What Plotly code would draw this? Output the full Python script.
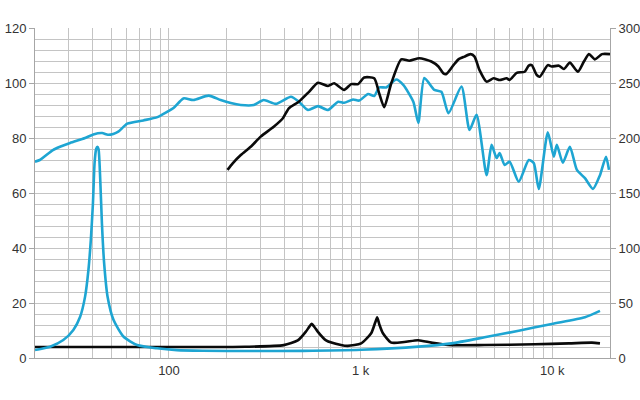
import plotly.graph_objects as go

# ---- data ----
spl_cyan_f = [20, 21.2, 24.8, 27, 30.5, 36.5, 40.3, 44.8, 48, 51.2, 54.4, 60.6, 73.5, 87, 98.2,
              105.6, 119, 134, 161, 186, 210, 237, 277, 312, 361, 433, 476, 531, 599, 676, 763,
              820, 913, 982, 1094, 1177, 1250, 1360, 1534, 1669, 1883, 2000, 2149, 2425, 2638,
              2871, 3359, 3699, 4025, 4541, 4822, 5123, 5311, 5640, 5990, 6679, 7535, 8000, 8500,
              9476, 10182, 10560, 11350, 12350, 13435, 14800, 16300, 17730, 19060, 19760]
spl_cyan_v = [71.4, 72, 75.6, 76.8, 78.2, 80, 81.3, 81.8, 81.2, 81.5, 82.3, 85.2, 86.4, 87.6, 89.6,
              90.9, 94.4, 93.8, 95.4, 93.8, 92.7, 92, 92, 93.8, 92.4, 95, 93.2, 90.2, 91.6, 90.2, 93.2,
              92.8, 94, 93.6, 96, 95.3, 98.4, 98.4, 101.3, 99.3, 93.2, 85.5, 101.8, 97.5, 96.8,
              89, 98.7, 82.9, 88.4, 66.5, 77.5, 72.7, 74.5, 70.2, 71.4, 64.1, 72, 70.9, 61.5,
              82.1, 73.2, 77.5, 71, 76.8, 68.4, 65.4, 61.5, 66.5, 73.2, 68.4]

spl_black_f = [202, 215, 237, 267, 301, 352, 393, 422, 476, 538, 599, 676, 727, 820, 892, 970,
               1043, 1177, 1250, 1327, 1445, 1629, 1794, 2024, 2339, 2545, 2703, 2803, 3050, 3240,
               3482, 3744, 3929, 4172, 4541, 4940, 5311, 5776, 5990, 6520, 7178, 7535, 7808, 8295,
               8600, 9476, 9935, 10820, 11490, 12350, 13600, 14620, 15530, 16690, 18160, 20000]
spl_black_v = [68.4, 70.8, 73.8, 76.8, 80.5, 84.1, 87.2, 90.8, 93.2, 96.8, 100.1, 98.9, 99.9, 97.5,
               99.6, 99.6, 102, 101.7, 96.2, 91.2, 99.9, 108.6, 108.1, 109, 107.8, 106, 103.5,
               103.3, 106.5, 108.6, 109.6, 110.5, 109.6, 104.7, 100.5, 101.7, 101.1, 101.7, 101.1,
               103.7, 104.1, 106.3, 106.5, 102.9, 102.3, 106.5, 106, 106.3, 105.1, 107.4, 104.1,
               107.8, 110.5, 108.6, 110.5, 110.5]

imp_cyan_f = [20, 24, 28.1, 31.7, 34.4, 36.5, 38.0, 39.1, 40.1, 40.9, 41.7, 42.3, 42.9, 43.8, 44.7,
              45.9, 47.8, 51.4, 58.0, 68.2, 86.7, 110, 150, 267, 500, 1006, 2000, 2977, 4431,
              6679, 9935, 14800, 17730]
imp_cyan_v = [7.3, 10.3, 16.3, 25.5, 37.5, 55.8, 80, 107, 140, 177, 190, 192, 190, 162, 122,
              86, 56, 34.5, 19.3, 11.8, 8.8, 7.2, 6.6, 6.3, 6.5, 7.5, 10.3, 13.3, 18.8,
              24.8, 31, 37, 42.8]

imp_black_f = [20, 100, 250, 397, 470, 518, 540, 555, 575, 597, 660, 790, 857, 1006, 1135, 1190,
               1220, 1255, 1307, 1445, 1689, 1993, 2339, 2862, 4431, 8096, 12200, 16100, 17730]
imp_black_v = [10, 10, 10.2, 11.7, 16, 24, 28.5, 31, 28, 24, 16, 11.8, 11, 13.3, 22.5, 32,
               37, 30, 22.5, 14, 14.5, 16.2, 14, 11.8, 11.8, 12.5, 13.3, 14, 13.3]

x_grid = [m * 10 ** e for e in (1, 2, 3) for m in range(1, 10)] + [10000, 20000]
x_grid = sorted(set(v for v in x_grid if 20 <= v <= 20000))
x_labels = {100: "100", 1000: "1 k", 10000: "10 k"}

CYAN = "#1ea5d2"
BLACK = "#0a0a0a"
GRID = "#c4c4c4"
AXIS = "#a6a6a6"

fig = go.Figure()
line_kw = dict(shape="spline", smoothing=0.6, width=2.6)
fig.add_trace(go.Scatter(x=imp_black_f, y=imp_black_v, yaxis="y2", mode="lines",
                         line=dict(color=BLACK, **line_kw), showlegend=False))
fig.add_trace(go.Scatter(x=imp_cyan_f, y=imp_cyan_v, yaxis="y2", mode="lines",
                         line=dict(color=CYAN, **line_kw), showlegend=False))
fig.add_trace(go.Scatter(x=spl_cyan_f, y=spl_cyan_v, mode="lines",
                         line=dict(color=CYAN, **line_kw), showlegend=False))
fig.add_trace(go.Scatter(x=spl_black_f, y=spl_black_v, mode="lines",
                         line=dict(color=BLACK, **line_kw), showlegend=False))

font = dict(family="Liberation Sans, Arial, sans-serif", size=13, color="#333333")
fig.update_layout(
    width=640, height=400,
    margin=dict(l=35, r=30, t=28, b=42, autoexpand=False),
    paper_bgcolor="white", plot_bgcolor="white",
    font=font,
    xaxis=dict(type="log", range=[1.30103, 4.30103], automargin=False,
               tickvals=x_grid, ticktext=[x_labels.get(v, "") for v in x_grid],
               showgrid=True, gridcolor=GRID, gridwidth=1,
               showline=True, linecolor=AXIS, linewidth=1,
               ticks="", zeroline=False, tickfont=font),
    yaxis=dict(range=[0, 120], dtick=20, showgrid=True, gridcolor=GRID, automargin=False,
               minor=dict(dtick=4, showgrid=True, gridcolor=GRID, ticks=""),
               showline=True, linecolor=AXIS, ticks="outside", ticklen=5,
               tickcolor=AXIS, zeroline=False, tickfont=font),
    yaxis2=dict(range=[0, 300], dtick=50, overlaying="y", side="right", automargin=False,
                showgrid=False, showline=True, linecolor=AXIS, ticks="outside",
                ticklen=5, tickcolor=AXIS, zeroline=False, tickfont=font),
)

fig.write_html("out.html")
